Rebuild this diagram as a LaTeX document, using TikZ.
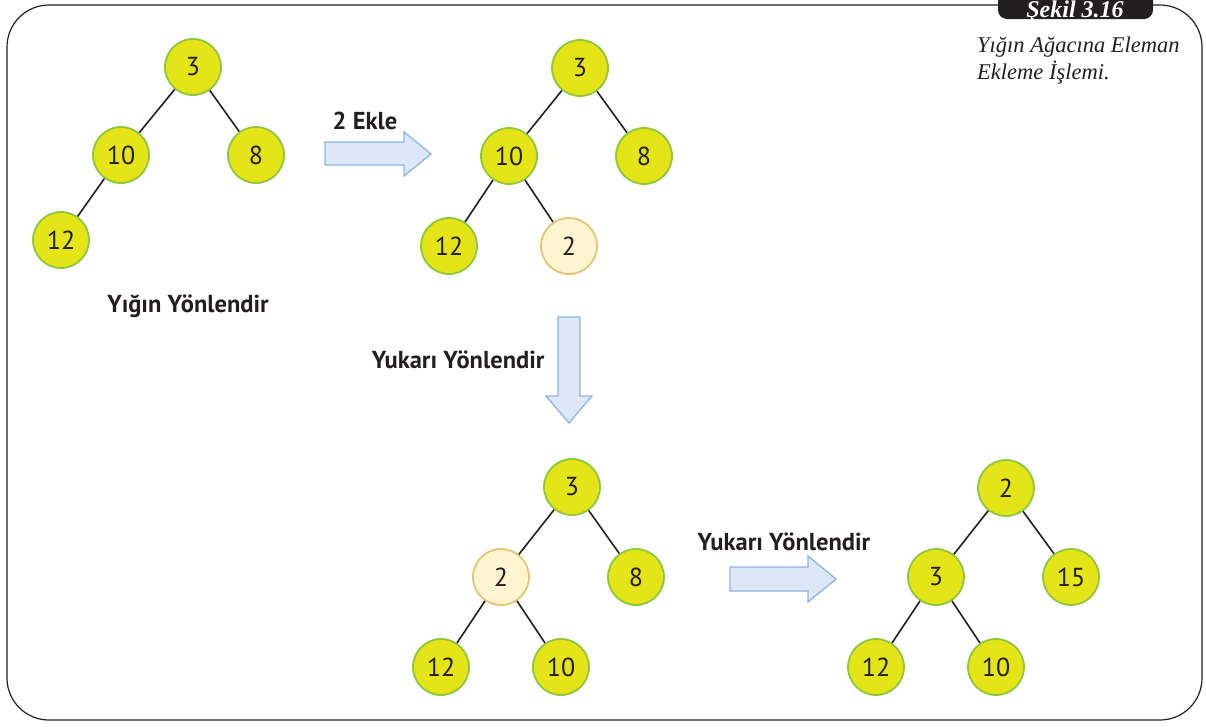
\documentclass[tikz,border=0pt]{standalone}
\usepackage{fontspec}
\setmainfont{Liberation Serif}
\setsansfont{PT Sans}
\usepackage{tikz}
\usepackage{xcolor}
\usetikzlibrary{positioning}
\definecolor{heapyellow}{RGB}{228, 228, 22}
\definecolor{heapgreen}{RGB}{141, 198, 63}
\definecolor{newfill}{RGB}{255, 244, 208}
\definecolor{newborder}{RGB}{226, 197, 120}
\definecolor{arrowfill}{RGB}{220, 232, 246}
\definecolor{arrowblue}{RGB}{140, 180, 225}
\definecolor{inkdark}{RGB}{35, 31, 32}
\tikzset{
    heapnode/.style={circle, draw=heapgreen, line width=1.8pt, fill=heapyellow, minimum size=56pt, inner sep=0pt, text=inkdark, font=\sffamily\fontsize{26}{26}\selectfont},
    newnode/.style={heapnode, fill=newfill, draw=newborder},
    treeline/.style={line width=1.6pt, inkdark},
    blockarrow/.style={draw=arrowblue, fill=arrowfill, line width=1.3pt, line join=miter},
    steplabel/.style={text=inkdark, font=\sffamily\bfseries\fontsize{24.5}{24.5}\selectfont}
}

\begin{document}
\begin{tikzpicture}[x=1pt, y=-1pt]
    \useasboundingbox (0,0) rectangle (1206,726);
    \clip (0,0) rectangle (1206,726);

    % frame and figure tab
    \draw[line width=1.2pt, inkdark, rounded corners=42pt] (7,5) rectangle (1202,720);
    \fill[inkdark, rounded corners=9pt] (998,-20) rectangle (1153,19);
    \node[anchor=base, text=white, font=\bfseries\itshape\fontsize{24}{24}\selectfont] (tab) at (1075,17.5) {Şekil 3.16};
    \node[anchor=north west, align=left, inner sep=0pt, text=inkdark, font=\itshape\fontsize{22.5}{26.5}\selectfont] (caption) at (977,37)
        {Yığın Ağacına Eleman\\Ekleme İşlemi.};

    % first heap
    \node[heapnode] (a1) at (193,67) {3};
    \node[heapnode] (a2) at (121,155) {10};
    \node[heapnode] (a3) at (256,155) {8};
    \node[heapnode] (a4) at (61,240) {12};
    \draw[treeline] (a1) -- (a2);
    \draw[treeline] (a1) -- (a3);
    \draw[treeline] (a2) -- (a4);
    \node[steplabel] (lab1) at (188,306) {Yığın Yönlendir};

    % insert 2
    \draw[blockarrow] (325,142) -- (404,142) -- (404,132) -- (431,154) -- (404,176) -- (404,165) -- (325,165) -- cycle;
    \node[steplabel] (lab2) at (365,121) {2 Ekle};

    % second heap, new leaf
    \node[heapnode] (b1) at (580,68) {3};
    \node[heapnode] (b2) at (509,156) {10};
    \node[heapnode] (b3) at (644,156) {8};
    \node[heapnode] (b4) at (449,246) {12};
    \node[newnode] (b5) at (569,246) {2};
    \draw[treeline] (b1) -- (b2);
    \draw[treeline] (b1) -- (b3);
    \draw[treeline] (b2) -- (b4);
    \draw[treeline] (b2) -- (b5);

    % sift up, first step
    \draw[blockarrow] (558,317) -- (580,317) -- (580,396) -- (592,396) -- (569,423) -- (546,396) -- (558,396) -- cycle;
    \node[steplabel, anchor=east] (lab3) at (548,360) {Yukarı Yönlendir};

    % third heap
    \node[heapnode] (c1) at (572,487) {3};
    \node[newnode] (c2) at (501,577) {2};
    \node[heapnode] (c3) at (636,577) {8};
    \node[heapnode] (c4) at (441,667) {12};
    \node[heapnode] (c5) at (561,667) {10};
    \draw[treeline] (c1) -- (c2);
    \draw[treeline] (c1) -- (c3);
    \draw[treeline] (c2) -- (c4);
    \draw[treeline] (c2) -- (c5);

    % sift up, second step
    \draw[blockarrow] (730,567) -- (808,567) -- (808,556) -- (836,579) -- (808,602) -- (808,591) -- (730,591) -- cycle;
    \node[steplabel] (lab4) at (784,542) {Yukarı Yönlendir};

    % final heap
    \node[heapnode] (d1) at (1006,488) {2};
    \node[heapnode] (d2) at (936,577) {3};
    \node[heapnode] (d3) at (1071,577) {15};
    \node[heapnode] (d4) at (876,667) {12};
    \node[heapnode] (d5) at (996,667) {10};
    \draw[treeline] (d1) -- (d2);
    \draw[treeline] (d1) -- (d3);
    \draw[treeline] (d2) -- (d4);
    \draw[treeline] (d2) -- (d5);
\end{tikzpicture}
\end{document}
